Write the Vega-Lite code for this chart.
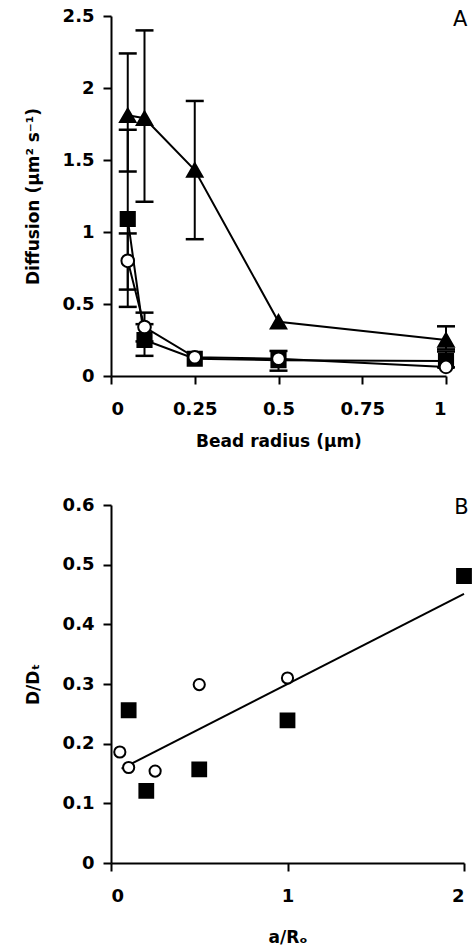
{
  "$schema": "https://vega.github.io/schema/vega-lite/v6.json",
  "background": "white",
  "padding": {"left": 24, "top": 7, "right": 0, "bottom": 0},
  "spacing": 47,
  "datasets": {
    "a": [
      {"series": "triangle", "radius": 0.05, "D": 1.81},
      {"series": "triangle", "radius": 0.1, "D": 1.79},
      {"series": "triangle", "radius": 0.25, "D": 1.43},
      {"series": "triangle", "radius": 0.5, "D": 0.377},
      {"series": "triangle", "radius": 1, "D": 0.25},
      {"series": "square", "radius": 0.05, "D": 1.09},
      {"series": "square", "radius": 0.1, "D": 0.25},
      {"series": "square", "radius": 0.25, "D": 0.12},
      {"series": "square", "radius": 0.5, "D": 0.11},
      {"series": "square", "radius": 1, "D": 0.105},
      {"series": "circle", "radius": 0.05, "D": 0.8},
      {"series": "circle", "radius": 0.1, "D": 0.34},
      {"series": "circle", "radius": 0.25, "D": 0.13},
      {"series": "circle", "radius": 0.5, "D": 0.12},
      {"series": "circle", "radius": 1, "D": 0.063}
    ],
    "aerr": [
      {"radius": 0.05, "lo": 1.42, "hi": 2.24},
      {"radius": 0.05, "lo": 0.48, "hi": 1.71},
      {"radius": 0.05, "lo": 0.6, "hi": 0.99},
      {"radius": 0.1, "lo": 1.21, "hi": 2.4},
      {"radius": 0.1, "lo": 0.24, "hi": 0.44},
      {"radius": 0.1, "lo": 0.14, "hi": 0.36},
      {"radius": 0.25, "lo": 0.95, "hi": 1.91},
      {"radius": 0.5, "lo": 0.037, "hi": 0.174},
      {"radius": 1, "lo": 0.185, "hi": 0.345},
      {"radius": 1, "lo": 0.06, "hi": 0.17}
    ],
    "b": [
      {"series": "circle", "ratio": 0.05, "DDt": 0.186},
      {"series": "circle", "ratio": 0.1, "DDt": 0.16},
      {"series": "circle", "ratio": 0.25, "DDt": 0.154},
      {"series": "circle", "ratio": 0.5, "DDt": 0.299},
      {"series": "circle", "ratio": 1, "DDt": 0.31},
      {"series": "square", "ratio": 0.1, "DDt": 0.256},
      {"series": "square", "ratio": 0.2, "DDt": 0.121},
      {"series": "square", "ratio": 0.5, "DDt": 0.157},
      {"series": "square", "ratio": 1, "DDt": 0.239},
      {"series": "square", "ratio": 2, "DDt": 0.481}
    ],
    "fit": [
      {"ratio": 0.06, "DDt": 0.158},
      {"ratio": 2, "DDt": 0.451}
    ],
    "labelA": [{"x": 1.042, "y": 2.47, "t": "A"}],
    "labelB": [{"x": 1.985, "y": 0.595, "t": "B"}]
  },
  "vconcat": [
    {
      "width": 335,
      "height": 360,
      "layer": [
        {
          "data": {"name": "a"},
          "mark": {"type": "line", "color": "black", "strokeWidth": 2},
          "encoding": {
            "x": {"field": "radius", "type": "quantitative", "title": "Bead radius (μm)",
                  "scale": {"domain": [0, 1], "nice": false, "zero": true},
                  "axis": {"values": [0, 0.25, 0.5, 0.75, 1], "format": ".2~f", "titlePadding": 15}},
            "y": {"field": "D", "type": "quantitative", "title": "Diffusion (μm² s⁻¹)",
                  "scale": {"domain": [0, 2.5], "nice": false, "zero": true},
                  "axis": {"values": [0, 0.5, 1, 1.5, 2, 2.5], "format": ".2~f"}},
            "detail": {"field": "series"}
          }
        },
        {
          "data": {"name": "aerr"},
          "mark": {"type": "rule", "color": "black", "strokeWidth": 2},
          "encoding": {
            "x": {"field": "radius", "type": "quantitative", "title": "Bead radius (μm)"},
            "y": {"field": "lo", "type": "quantitative", "title": "Diffusion (μm² s⁻¹)"},
            "y2": {"field": "hi"}
          }
        },
        {
          "data": {"name": "aerr"},
          "mark": {"type": "tick", "orient": "horizontal", "color": "black", "size": 18, "thickness": 2.5, "opacity": 1},
          "encoding": {
            "x": {"field": "radius", "type": "quantitative", "title": "Bead radius (μm)"},
            "y": {"field": "lo", "type": "quantitative", "title": "Diffusion (μm² s⁻¹)"}
          }
        },
        {
          "data": {"name": "aerr"},
          "mark": {"type": "tick", "orient": "horizontal", "color": "black", "size": 18, "thickness": 2.5, "opacity": 1},
          "encoding": {
            "x": {"field": "radius", "type": "quantitative", "title": "Bead radius (μm)"},
            "y": {"field": "hi", "type": "quantitative", "title": "Diffusion (μm² s⁻¹)"}
          }
        },
        {
          "data": {"name": "a"},
          "mark": {"type": "point", "stroke": "black", "strokeWidth": 2, "opacity": 1},
          "encoding": {
            "x": {"field": "radius", "type": "quantitative", "title": "Bead radius (μm)"},
            "y": {"field": "D", "type": "quantitative", "title": "Diffusion (μm² s⁻¹)"},
            "shape": {"field": "series", "type": "nominal", "legend": null,
                      "scale": {"domain": ["triangle", "square", "circle"], "range": ["triangle-up", "square", "circle"]}},
            "fill": {"field": "series", "type": "nominal", "legend": null,
                     "scale": {"domain": ["triangle", "square", "circle"], "range": ["black", "black", "white"]}},
            "size": {"field": "series", "type": "ordinal", "legend": null,
                     "scale": {"domain": ["triangle", "square", "circle"], "range": [240, 160, 120]}}
          }
        },
        {
          "data": {"name": "labelA"},
          "mark": {"type": "text", "fontSize": 21, "align": "center", "baseline": "middle", "color": "black"},
          "encoding": {
            "x": {"field": "x", "type": "quantitative", "title": "Bead radius (μm)"},
            "y": {"field": "y", "type": "quantitative", "title": "Diffusion (μm² s⁻¹)"},
            "text": {"field": "t"}
          }
        }
      ]
    },
    {
      "width": 353,
      "height": 358,
      "layer": [
        {
          "data": {"name": "fit"},
          "mark": {"type": "line", "color": "black", "strokeWidth": 2},
          "encoding": {
            "x": {"field": "ratio", "type": "quantitative", "title": "a/Rₒ",
                  "scale": {"domain": [0, 2], "nice": false, "zero": true},
                  "axis": {"values": [0, 1, 2], "format": ".2~f", "titlePadding": 24}},
            "y": {"field": "DDt", "type": "quantitative", "title": "D/Dₜ",
                  "scale": {"domain": [0, 0.6], "nice": false, "zero": true},
                  "axis": {"values": [0, 0.1, 0.2, 0.3, 0.4, 0.5, 0.6], "format": ".2~f"}}
          }
        },
        {
          "data": {"name": "b"},
          "mark": {"type": "point", "stroke": "black", "strokeWidth": 2, "opacity": 1},
          "encoding": {
            "x": {"field": "ratio", "type": "quantitative", "title": "a/Rₒ"},
            "y": {"field": "DDt", "type": "quantitative", "title": "D/Dₜ"},
            "shape": {"field": "series", "type": "nominal", "legend": null,
                      "scale": {"domain": ["square", "circle"], "range": ["square", "circle"]}},
            "fill": {"field": "series", "type": "nominal", "legend": null,
                     "scale": {"domain": ["square", "circle"], "range": ["black", "white"]}},
            "size": {"field": "series", "type": "ordinal", "legend": null,
                     "scale": {"domain": ["square", "circle"], "range": [190, 125]}}
          }
        },
        {
          "data": {"name": "labelB"},
          "mark": {"type": "text", "fontSize": 21, "align": "center", "baseline": "middle", "color": "black"},
          "encoding": {
            "x": {"field": "x", "type": "quantitative", "title": "a/Rₒ"},
            "y": {"field": "y", "type": "quantitative", "title": "D/Dₜ"},
            "text": {"field": "t"}
          }
        }
      ],
      "resolve": {"scale": {"shape": "independent", "fill": "independent", "size": "independent"}}
    }
  ],
  "resolve": {"scale": {"shape": "independent", "fill": "independent", "size": "independent"}},
  "config": {
    "font": "DejaVu Sans",
    "view": {"stroke": null},
    "axis": {
      "grid": false,
      "domainColor": "black",
      "domainWidth": 2,
      "tickColor": "black",
      "tickWidth": 2,
      "tickSize": 8,
      "labelColor": "black",
      "labelFont": "DejaVu Sans",
      "labelFontSize": 18,
      "labelFontWeight": "bold",
      "labelPadding": 8,
      "titleColor": "black",
      "titleFont": "DejaVu Sans",
      "titleFontSize": 17,
      "titleFontWeight": "bold",
      "titlePadding": 20
    },
    "axisX": {"labelPadding": 16},
    "axisY": {"labelPadding": 9}
  }
}
